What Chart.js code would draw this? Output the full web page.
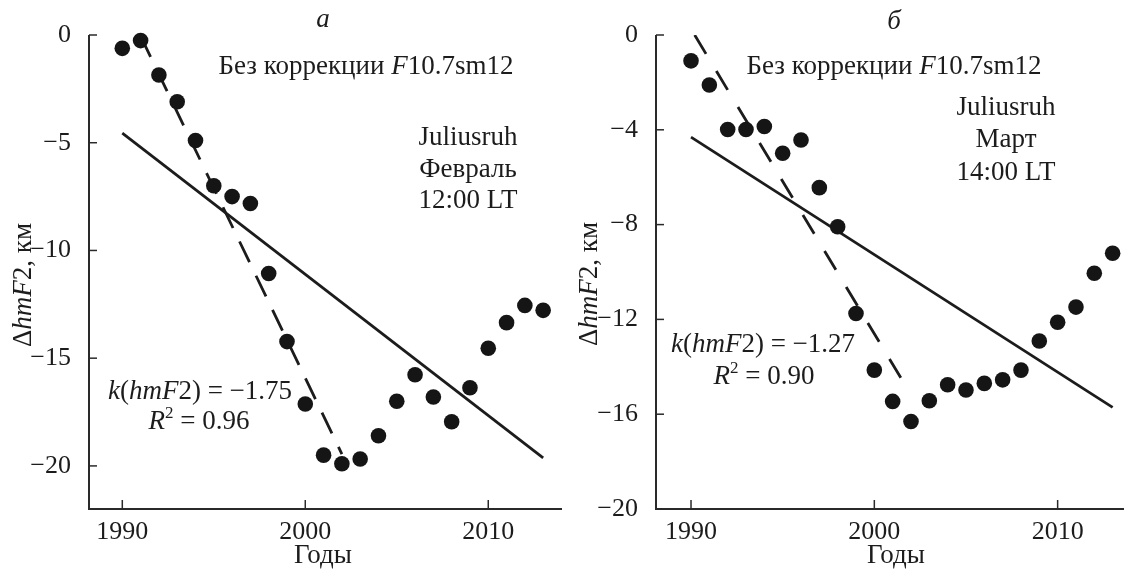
<!DOCTYPE html>
<html>
<head>
<meta charset="utf-8">
<script src="https://cdn.jsdelivr.net/npm/chart.js@4.4.1/dist/chart.umd.min.js"></script>
<style>
  html, body { margin: 0; padding: 0; background: #fff; }
  body { width: 1124px; height: 570px; position: relative; overflow: hidden; }
  .panel { position: absolute; top: 0; width: 562px; height: 570px; }
</style>
</head>
<body>
<div class="panel" style="left:0"><canvas id="chartA" width="562" height="570"></canvas></div>
<div class="panel" style="left:562px"><canvas id="chartB" width="562" height="570"></canvas></div>
<script>
// годы наблюдений
const years = [1990, 1991, 1992, 1993, 1994, 1995, 1996, 1997, 1998, 1999, 2000, 2001,
               2002, 2003, 2004, 2005, 2006, 2007, 2008, 2009, 2010, 2011, 2012, 2013];

// а) Juliusruh, февраль, 12:00 LT
const febValues = [-0.62, -0.26, -1.86, -3.1, -4.9, -7.0, -7.5, -7.82, -11.07, -14.23, -17.13, -19.5,
                   -19.9, -19.68, -18.6, -17.0, -15.77, -16.8, -17.95, -16.37, -14.54, -13.35, -12.55, -12.78];
const febTrendYears = [1990, 2013];
const febTrend = [-4.55, -19.63];
const febFitYears = [1991, 2002];
const febFit = [-0.05, -19.45];

// б) Juliusruh, март, 14:00 LT
const marValues = [-1.09, -2.11, -3.99, -3.99, -3.86, -4.99, -4.43, -6.44, -8.09, -11.75, -14.14, -15.46,
                   -16.31, -15.43, -14.76, -14.98, -14.70, -14.55, -14.14, -12.91, -12.12, -11.48, -10.05, -9.21];
const marTrendYears = [1990, 2013];
const marTrend = [-4.31, -15.71];
const marFitYears = [1990.2, 2001.9];
const marFit = [0, -15.05];

// деления осей
const xTicks = [1990, 2000, 2010];
const yTicksA = [0, -5, -10, -15, -20];
const yTicksB = [0, -4, -8, -12, -16, -20];

const SERIF = "'Liberation Serif', 'DejaVu Serif', serif";
const INK = '#1c1c1c';
Chart.defaults.font.family = SERIF;
Chart.defaults.font.size = 26;
Chart.defaults.color = INK;

const pts = (xs, ys) => xs.map((x, i) => ({ x: x, y: ys[i] }));
const minus = v => v < 0 ? '\u2212' + Math.abs(v) : String(v);

// текст со смешанным начертанием: [текст, курсив, верхний индекс]
function drawRich(ctx, parts, x, y, size, align) {
    const fontOf = p => (p[1] ? 'italic ' : '') + (p[2] ? Math.round(size * 0.62) : size) + 'px ' + SERIF;
    let total = 0;
    parts.forEach(p => { ctx.font = fontOf(p); total += ctx.measureText(p[0]).width; });
    let cx = align === 'center' ? x - total / 2 : x;
    ctx.textAlign = 'left';
    ctx.textBaseline = 'middle';
    parts.forEach(p => {
        ctx.font = fontOf(p);
        ctx.fillText(p[0], cx, p[2] ? y - size * 0.33 : y);
        cx += ctx.measureText(p[0]).width;
    });
}

// оси с внутренними делениями + подписи
function panelPlugin(labels) {
    return {
        id: 'panelDecor',
        afterDraw(chart) {
            const ctx = chart.ctx;
            const a = chart.chartArea;
            const xs = chart.scales.x, ys = chart.scales.y;
            ctx.save();
            ctx.strokeStyle = '#2a2a2a';
            ctx.lineWidth = 2;
            ctx.beginPath();
            ctx.moveTo(a.left, a.top);
            ctx.lineTo(a.left, a.bottom);
            ctx.lineTo(a.right, a.bottom);
            ctx.stroke();
            ctx.lineWidth = 1.5;
            ys.ticks.forEach(t => {
                const py = ys.getPixelForValue(t.value);
                ctx.beginPath(); ctx.moveTo(a.left, py); ctx.lineTo(a.left + 8, py); ctx.stroke();
            });
            xs.ticks.forEach(t => {
                const px = xs.getPixelForValue(t.value);
                ctx.beginPath(); ctx.moveTo(px, a.bottom); ctx.lineTo(px, a.bottom - 9); ctx.stroke();
            });
            ctx.fillStyle = INK;
            labels.forEach(l => {
                if (l.rotate) {
                    ctx.save();
                    ctx.translate(l.x, l.y);
                    ctx.rotate(-Math.PI / 2);
                    drawRich(ctx, l.parts, 0, 0, l.size, 'center');
                    ctx.restore();
                } else {
                    drawRich(ctx, l.parts, l.x, l.y, l.size, 'center');
                }
            });
            ctx.restore();
        }
    };
}

function makePanel(id, values, trendX, trendY, fitX, fitY, yTicks, yMin, xMin, xMax, yWidth, dash, labels) {
    return new Chart(document.getElementById(id), {
        type: 'scatter',
        data: {
            datasets: [
                { data: pts(years, values), backgroundColor: '#151515', borderWidth: 0,
                  pointRadius: 7.8, pointHoverRadius: 7.8, clip: false, order: 0 },
                { data: pts(trendX, trendY), showLine: true, borderColor: INK, borderWidth: 2.8,
                  pointRadius: 0, order: 1 },
                { data: pts(fitX, fitY), showLine: true, borderColor: INK, borderWidth: 2.8,
                  borderDash: dash, pointRadius: 0, order: 2 }
            ]
        },
        options: {
            responsive: false,
            animation: false,
            events: [],
            layout: { autoPadding: false, padding: { top: 35, left: 0, right: 0, bottom: 0 } },
            plugins: { legend: { display: false }, tooltip: { enabled: false } },
            scales: {
                x: {
                    type: 'linear', min: xMin, max: xMax,
                    grid: { display: false }, border: { display: false },
                    afterBuildTicks: s => { s.ticks = xTicks.map(v => ({ value: v })); },
                    afterFit: s => { s.height = 61; s.paddingLeft = 0; s.paddingRight = 0; },
                    ticks: { padding: 0, callback: v => String(v), maxRotation: 0 }
                },
                y: {
                    type: 'linear', min: yMin, max: 0,
                    grid: { display: false }, border: { display: false },
                    afterBuildTicks: s => { s.ticks = yTicks.map(v => ({ value: v })); },
                    afterFit: s => { s.width = yWidth; s.paddingTop = 0; s.paddingBottom = 0; },
                    ticks: { padding: 10, callback: minus }
                }
            }
        },
        plugins: [panelPlugin(labels)]
    });
}

const S = 27;
const titleY = (x, y) => ({ x: x, y: y, size: S, rotate: true,
    parts: [['\u0394', false], ['hmF', true], ['2, \u043a\u043c', false]] });

makePanel('chartA', febValues, febTrendYears, febTrend, febFitYears, febFit, yTicksA, -22,
    1988.18, 2014.03, 89, [23, 15], [
        { x: 323, y: 20, size: S, parts: [['\u0430', true]] },
        { x: 366, y: 67, size: S, parts: [['Без коррекции ', false], ['F', true], ['10.7sm12', false]] },
        { x: 468, y: 138, size: S, parts: [['Juliusruh', false]] },
        { x: 468, y: 170, size: S, parts: [['Февраль', false]] },
        { x: 468, y: 201, size: S, parts: [['12:00 LT', false]] },
        { x: 200, y: 392, size: S, parts: [['k', true], ['(', false], ['hmF', true], ['2) = \u22121.75', false]] },
        { x: 199, y: 422, size: S, parts: [['R', true], ['2', false, true], [' = 0.96', false]] },
        titleY(24, 285),
        { x: 323, y: 556, size: S, parts: [['Годы', false]] }
    ]);

makePanel('chartB', marValues, marTrendYears, marTrend, marFitYears, marFit, yTicksB, -20,
    1988.09, 2013.62, 94, [22, 20], [
        { x: 332, y: 22, size: S, parts: [['\u0431', true]] },
        { x: 332, y: 67, size: S, parts: [['Без коррекции ', false], ['F', true], ['10.7sm12', false]] },
        { x: 444, y: 108, size: S, parts: [['Juliusruh', false]] },
        { x: 444, y: 140, size: S, parts: [['Март', false]] },
        { x: 444, y: 173, size: S, parts: [['14:00 LT', false]] },
        { x: 201, y: 345, size: S, parts: [['k', true], ['(', false], ['hmF', true], ['2) = \u22121.27', false]] },
        { x: 202, y: 377, size: S, parts: [['R', true], ['2', false, true], [' = 0.90', false]] },
        titleY(28, 284),
        { x: 334, y: 556, size: S, parts: [['Годы', false]] }
    ]);
</script>
</body>
</html>
